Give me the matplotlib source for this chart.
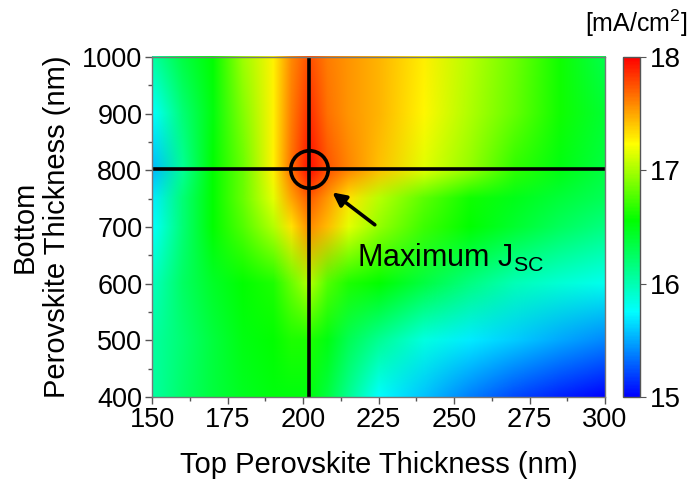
import numpy as np
import matplotlib.pyplot as plt
from matplotlib.colors import LinearSegmentedColormap
from matplotlib.image import NonUniformImage

plt.rcParams['font.family'] = ['Liberation Sans', 'DejaVu Sans']
plt.rcParams['mathtext.fontset'] = 'custom'
plt.rcParams['mathtext.rm'] = 'Liberation Sans'
plt.rcParams['mathtext.it'] = 'Liberation Sans:italic'

# top perovskite thickness (nm)
top_nm = [150, 160, 170, 180, 190, 196, 202, 208, 215, 225, 240, 255, 270, 285, 300]
# bottom perovskite thickness (nm)
bottom_nm = [400, 500, 600, 700, 750, 800, 900, 1000]

# Jsc (mA/cm2), one row per bottom thickness
jsc_400 = [16.05, 16.22, 16.36, 16.46, 16.52, 16.52, 16.52, 16.35, 16.1, 15.75, 15.58, 15.38, 15.22, 15.1, 15.0]
jsc_500 = [16.05, 16.2, 16.36, 16.5, 16.57, 16.64, 16.64, 16.5, 16.3, 16.1, 15.85, 15.7, 15.6, 15.5, 15.41]
jsc_600 = [15.95, 16.25, 16.43, 16.57, 16.64, 16.83, 17.03, 16.77, 16.64, 16.57, 16.35, 16.15, 15.98, 15.88, 15.80]
jsc_700 = [15.75, 16.19, 16.57, 16.77, 17.03, 17.31, 17.58, 17.43, 17.16, 16.95, 16.72, 16.57, 16.41, 16.27, 16.15]
jsc_750 = [15.70, 16.19, 16.57, 16.83, 17.16, 17.50, 17.73, 17.54, 17.31, 17.05, 16.8, 16.6, 16.48, 16.38, 16.28]
jsc_800 = [15.55, 16.08, 16.57, 16.83, 17.27, 17.66, 17.96, 17.75, 17.6, 17.42, 17.15, 16.95, 16.68, 16.5, 16.35]
jsc_900 = [15.75, 16.19, 16.52, 16.90, 17.27, 17.62, 17.86, 17.65, 17.55, 17.45, 17.25, 17.02, 16.82, 16.6, 16.4]
jsc_1000 = [16.05, 16.35, 16.57, 16.97, 17.27, 17.58, 17.76, 17.62, 17.55, 17.45, 17.28, 17.05, 16.85, 16.6, 16.32]

opt_top = 202
opt_bottom = 802

jsc = np.array([jsc_400, jsc_500, jsc_600, jsc_700, jsc_750, jsc_800, jsc_900, jsc_1000])

cmap = LinearSegmentedColormap.from_list(
    'rainbow_origin',
    [(0.0, '#0000ff'), (0.25, '#00ffff'), (0.52, '#00ff00'), (0.745, '#ffff00'), (1.0, '#ff0000')])

fig = plt.figure(figsize=(6.92, 4.82), dpi=100)
ax = fig.add_axes([0.2197, 0.1763, 0.6546, 0.7054])
cax = fig.add_axes([0.900, 0.1763, 0.0246, 0.7054])

im = NonUniformImage(ax, interpolation='bilinear', extent=(150, 300, 400, 1000), cmap=cmap)
im.set_data(np.array(top_nm, float), np.array(bottom_nm, float), jsc)
im.set_clim(15, 18)
ax.add_image(im)

ax.axvline(opt_top, color='black', lw=2.6)
ax.axhline(opt_bottom, color='black', lw=2.6)
ax.plot([opt_top], [opt_bottom], 'o', ms=27, mfc='none', mec='black', mew=2.6)
ax.annotate('', xy=(209, 764), xytext=(224.5, 701),
            arrowprops=dict(arrowstyle='-|>', color='black', lw=2.6, mutation_scale=20))
ax.text(218, 646, r'Maximum J$_{\mathrm{SC}}$', fontsize=22, va='center', ha='left')

ax.set_xlim(150, 300)
ax.set_ylim(400, 1000)
ax.set_xticks(np.arange(150, 301, 25))
ax.set_xticks(np.arange(150, 301, 12.5), minor=True)
ax.set_yticks(np.arange(400, 1001, 100))
ax.set_yticks(np.arange(400, 1001, 50), minor=True)
ax.tick_params(which='major', direction='out', length=5, width=1, labelsize=19.5, color='#555555', pad=2)
ax.tick_params(which='minor', direction='out', length=3, width=1, color='#555555')
for s in ax.spines.values():
    s.set_color('#777777')
    s.set_linewidth(1)

ax.set_xlabel('Top Perovskite Thickness (nm)', fontsize=21, labelpad=13)
ax.set_ylabel('Bottom\nPerovskite Thickness (nm)', fontsize=21, labelpad=8, multialignment='center')

cb = fig.colorbar(im, cax=cax, ticks=[15, 16, 17, 18])
cb.ax.tick_params(labelsize=20, direction='out', length=4, color='#555555', pad=3)
cb.outline.set_edgecolor('#555555')
cb.outline.set_linewidth(1)
fig.text(0.92, 0.952, r'[mA/cm$^2$]', fontsize=18, ha='center', va='center')

fig.savefig('out.png', dpi=100)
